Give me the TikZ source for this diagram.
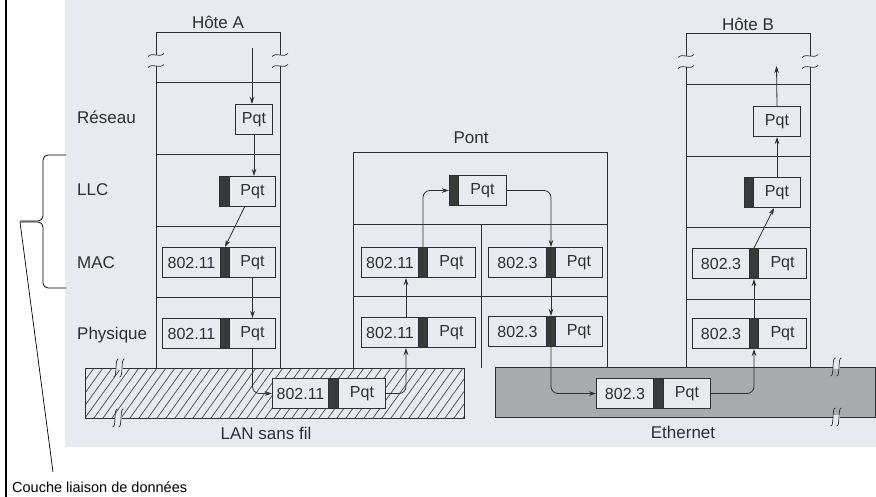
\documentclass[tikz,border=0pt]{standalone}
\usepackage{fontspec}
\setmainfont{Liberation Sans}
\usetikzlibrary{arrows.meta}
\definecolor{scanbg}{RGB}{232,234,239}
\definecolor{inkc}{RGB}{45,47,48}
\definecolor{barc}{RGB}{55,59,57}
\definecolor{ethc}{RGB}{168,170,173}
\definecolor{hatchc}{RGB}{80,82,85}
\newcommand\pktf[7]{%
  \node[cellh,minimum width={(#3-#2)*1pt}] (#1-h) at (#2,#6) {#7};
  \node[barn,minimum width={(#4-#3)*1pt}] (#1-b) at (#3,#6) {};
  \node[cellh,minimum width={(#5-#4)*1pt}] (#1-p) at (#4,#6) {Pqt};
}
\newcommand\pktl[5]{%
  \node[barn,minimum width={(#3-#2)*1pt}] (#1-b) at (#2,#5) {};
  \node[cellh,minimum width={(#4-#3)*1pt}] (#1-p) at (#3,#5) {Pqt};
}
\newcommand\tld[2]{\draw[ln,line width=0.7pt] (#1-8,#2+1.5) .. controls (#1-3,#2-3.5) and (#1+3,#2+3.5) .. (#1+8,#2-1.5);}
\newcommand\intg[2]{\draw[ln,line width=0.7pt] (#1-2.5,#2+9) .. controls (#1+1.5,#2+10) and (#1-1.5,#2-10) .. (#1+2.5,#2-9);}
\newcommand\brkh[3]{\fill[#3] (#1-1,#2-1.6) rectangle (#1+6,#2+1.6); \intg{#1-1}{#2}\intg{#1+5}{#2}}
\begin{document}
\begin{tikzpicture}[x=1pt,y=-1pt,
  ln/.style={draw=inkc,line width=1pt},
  cellh/.style={draw=inkc,line width=1pt,fill=scanbg,inner sep=0pt,minimum height=30pt,
    font=\fontsize{16}{18}\selectfont,text=inkc,anchor=north west},
  barn/.style={draw=inkc,line width=1pt,fill=barc,inner sep=0pt,minimum height=30pt,anchor=north west},
  lbl/.style={font=\fontsize{17}{20}\selectfont,text=inkc,inner sep=0pt},
  arr/.style={draw=inkc,line width=0.8pt,-{Stealth[length=7pt,width=4.5pt]}},
  rarr/.style={arr,rounded corners=7pt}]
\useasboundingbox (0,0) rectangle (876,497);
\fill[white] (0,0) rectangle (876,497);
\fill[scanbg] (65,0) rectangle (876,447);
\draw[black,line width=2.5pt] (6,0) -- (6,497);

% Host A
\draw[ln] (156,55) -- (156,33) -- (280,33) -- (280,55);
\draw[ln] (156,66) -- (156,368);
\draw[ln] (280,66) -- (280,368);
\foreach \y in {83,155,227,298} \draw[ln] (156,\y) -- (280,\y);
\tld{156}{55}\tld{156}{66}\tld{280}{55}\tld{280}{66}

% Host B
\draw[ln] (686,56) -- (686,34) -- (810,34) -- (810,56);
\draw[ln] (686,67) -- (686,367);
\draw[ln] (810,67) -- (810,367);
\foreach \y in {85,157,228,300} \draw[ln] (686,\y) -- (810,\y);
\tld{686}{56}\tld{686}{67}\tld{810}{56}\tld{810}{67}

% Bridge
\draw[ln] (353,368) -- (353,153) -- (607,153) -- (607,368);
\draw[ln] (353,225) -- (607,225);
\draw[ln] (353,297) -- (607,297);
\draw[ln] (481,225) -- (481,368);

% LAN sans fil
\fill[scanbg] (85,368) rectangle (464,418);
\begin{scope}
  \clip (85,368) rectangle (464,418);
  \foreach \x in {40,49,...,470} \draw[hatchc,line width=0.75pt] (\x,418) -- (\x+36,368);
\end{scope}
\draw[ln] (85,368) rectangle (464,418);
\brkh{117}{368}{scanbg}
\brkh{116}{418}{scanbg}

% Ethernet
\draw[ln,fill=ethc] (495,367) rectangle (875,417);
\brkh{834}{367}{scanbg}
\brkh{834}{417}{scanbg}

% labels
\node[lbl] (hA) at (218,22) {Hôte A};
\node[lbl] (hB) at (748,24) {Hôte B};
\node[lbl] (pont) at (471,138) {Pont};
\node[lbl,anchor=west] (lRes) at (77,117) {Réseau};
\node[lbl,anchor=west] (lLLC) at (77,190) {LLC};
\node[lbl,anchor=west] (lMAC) at (77,263) {MAC};
\node[lbl,anchor=west] (lPhy) at (77,335) {Physique};
\node[lbl] (lan) at (266,433) {LAN sans fil};
\node[lbl] (eth) at (683,432) {Ethernet};
\node[font=\fontsize{14.5}{17}\selectfont,anchor=west,inner sep=0pt,text=black] (cld) at (12,487) {Couche liaison de données};

% brace and pointer
\draw[black,line width=0.8pt,rounded corners=5pt] (66,155) -- (43,155) -- (43,221) -- (20,221);
\draw[black,line width=0.8pt,rounded corners=5pt] (20,222) -- (43,222) -- (43,288) -- (66,288);
\coordinate (cusp) at (20,222);
\coordinate (ptr) at (53,472);
\draw[black,line width=0.7pt] (cusp) -- (ptr);

% frames Host A
\node[cellh,minimum width=37pt] (rA) at (235,104) {Pqt};
\pktl{lA}{219}{229}{275}{176}
\pktf{mA}{162}{220}{229}{275}{247}{802.11}
\pktf{pA}{162}{220}{229}{275}{318}{802.11}
% LAN frame
\pktf{fL}{272}{328}{338}{385}{378}{802.11}
% Bridge
\pktl{lB}{449}{458}{506}{175}
\pktf{mBL}{361}{418}{427}{475}{247}{802.11}
\pktf{pBL}{361}{418}{427}{475}{317}{802.11}
\pktf{mBR}{488}{546}{555}{602}{247}{802.3}
\pktf{pBR}{488}{546}{555}{602}{316}{802.3}
% Ethernet frame
\pktf{fE}{596}{653}{663}{710}{378}{802.3}
% Host B
\node[cellh,minimum width=47pt] (rB) at (753,106) {Pqt};
\pktl{lBB}{744}{753}{800}{177}
\pktf{mB}{692}{749}{758}{806}{248}{802.3}
\pktf{pB}{692}{749}{758}{806}{318}{802.3}

\coordinate (aTop) at (252,48);
\coordinate (bTop) at (776.5,66);

% connectors
\draw[arr] (aTop) -- (aTop |- rA.north);
\draw[arr] (rA.south) -- (rA.south |- lA-p.north);
\draw[arr] ([xshift=-8pt]lA-p.south) -- (mA-b.north);
\draw[arr] (mA-p.south) -- (mA-p.south |- pA-p.north);
\draw[rarr] (pA-p.south) |- (fL-h.west);
\draw[rarr] (fL-p.east) -| ([xshift=16pt]pBL-h.south);
\draw[arr] ([xshift=16pt]pBL-h.north) -- ([xshift=16pt]mBL-h.south);
\draw[rarr] (mBL-b.north) |- (lB-b.west);
\draw[rarr] (lB-p.east) -| (mBR-b.north);
\draw[arr] (mBR-b.south) -- (mBR-b.south |- pBR-b.north);
\draw[rarr] (pBR-b.south) |- (fE-h.west);
\draw[rarr] (fE-p.east) -| (pB-b.south);
\draw[arr] (pB-b.north) -- (mB-b.south);
\draw[arr] (mB-b.north) -- ([xshift=-3pt]lBB-p.south);
\draw[arr] (lBB-p.north) -- (lBB-p.north |- rB.south);
\draw[arr] (rB.north) -- (bTop);
\end{tikzpicture}
\end{document}
